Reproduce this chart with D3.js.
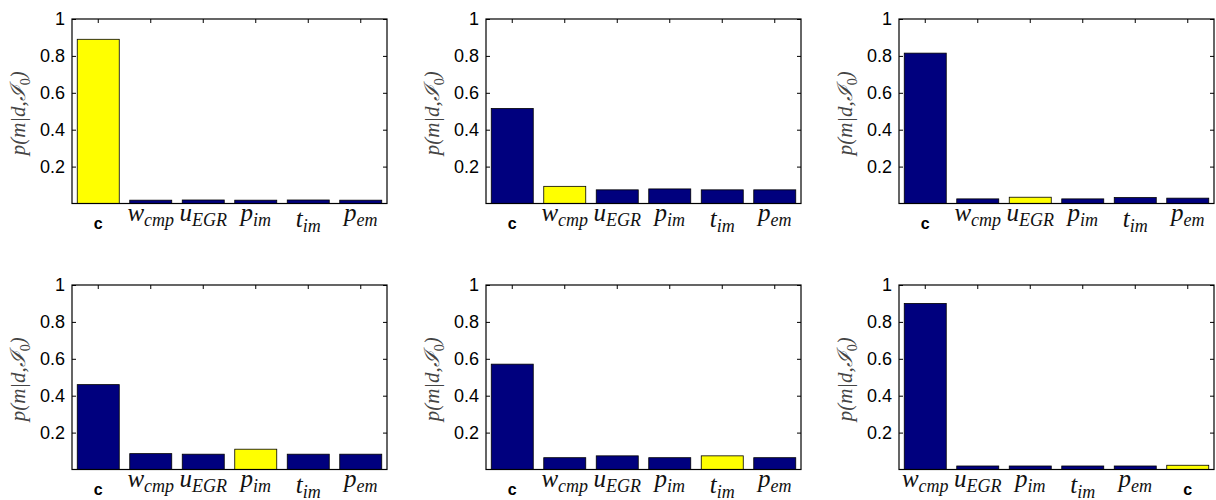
<!DOCTYPE html>
<html lang="en">
<head>
  <meta charset="UTF-8" />
  <title>Posterior mode probabilities</title>
  <script src="https://d3js.org/d3.v7.min.js"></script>
  <style>
    body { margin: 0; background: #fff; }
    svg { display: block; }
  </style>
</head>
<body>
  <svg id="chart" width="1216" height="500"></svg>
  <script>
    // categories per panel (last panel has c moved to the end)
    const modesA = ["c", "w_cmp", "u_EGR", "p_im", "t_im", "p_em"];
    const modesB = ["w_cmp", "u_EGR", "p_im", "t_im", "p_em", "c"];
    const panelModes = [modesA, modesA, modesA, modesA, modesA, modesB];

    // bar heights
    const panelValues = [
      [0.89, 0.018, 0.019, 0.018, 0.019, 0.018],
      [0.515, 0.093, 0.074, 0.079, 0.074, 0.074],
      [0.815, 0.025, 0.034, 0.025, 0.032, 0.029],
      [0.46, 0.086, 0.083, 0.11, 0.083, 0.083],
      [0.571, 0.064, 0.074, 0.064, 0.074, 0.064],
      [0.90, 0.019, 0.019, 0.019, 0.019, 0.023]
    ];

    // which bar is the true mode (drawn yellow)
    const highlighted = [0, 1, 2, 3, 4, 5];

    const yTicks = [0.2, 0.4, 0.6, 0.8, 1];

    const svg = d3.select("#chart");
    svg.append("rect").attr("width", 1216).attr("height", 500).attr("fill", "#fff");

    const colLeft = [72, 486, 899];
    const rowTop = [19, 285];
    const plotW = 315, plotH = 184.5;
    const navy = "#00007e", yellow = "#ffff00";
    const serif = "'Liberation Serif', 'Times New Roman', 'DejaVu Serif', serif";
    const sans = "'Liberation Sans', Arial, sans-serif";

    panelModes.forEach((modes, p) => {
      const left = colLeft[p % 3];
      const top = rowTop[Math.floor(p / 3)];
      const g = svg.append("g").attr("transform", `translate(${left},${top})`);

      const x = d3.scaleBand().domain(modes).range([0, plotW])
        .paddingInner(0.2).paddingOuter(0.1);
      const y = d3.scaleLinear().domain([0, 1]).range([plotH, 0]);

      // bars
      g.selectAll("rect.bar")
        .data(modes.map((m, i) => ({ m, v: panelValues[p][i], i })))
        .join("rect")
        .attr("class", "bar")
        .attr("x", d => x(d.m))
        .attr("width", x.bandwidth())
        .attr("y", d => y(d.v))
        .attr("height", d => y(0) - y(d.v))
        .attr("fill", d => d.i === highlighted[p] ? yellow : navy)
        .attr("stroke", "#000")
        .attr("stroke-width", 0.8);

      // inward ticks, MATLAB-like box
      const yAxis = g.append("g")
        .call(d3.axisLeft(y).tickValues(yTicks).tickSize(-4).tickPadding(7)
          .tickFormat(d => d === 1 ? "1" : d3.format(".1f")(d)));
      yAxis.select(".domain").remove();
      yAxis.selectAll("text").attr("font-family", sans).attr("font-size", 18).attr("fill", "#000");

      const yAxisR = g.append("g").attr("transform", `translate(${plotW},0)`)
        .call(d3.axisRight(y).tickValues(yTicks).tickSize(-4).tickFormat(""));
      yAxisR.select(".domain").remove();

      const xTop = g.append("g")
        .call(d3.axisTop(x).tickSize(-4).tickFormat(""));
      xTop.select(".domain").remove();

      g.append("rect")
        .attr("width", plotW).attr("height", plotH)
        .attr("fill", "none").attr("stroke", "#000").attr("stroke-width", 1.2);

      // x labels with TeX-like subscripts
      modes.forEach(m => {
        const cx = x(m) + x.bandwidth() / 2;
        if (m === "c") {
          g.append("text")
            .attr("x", cx).attr("y", plotH + 25)
            .attr("text-anchor", "middle")
            .attr("font-family", sans).attr("font-size", 16)
            .attr("font-weight", 600)
            .text("c");
          return;
        }
        const [base, sub] = m.split("_");
        const t = g.append("text")
          .attr("x", cx)
          .attr("y", plotH + (base === "t" ? 23 : 17))
          .attr("text-anchor", "middle")
          .attr("font-family", serif).attr("font-style", "italic")
          .attr("fill", "#111");
        t.append("tspan").attr("font-size", 25).text(base);
        t.append("tspan").attr("font-size", 18).attr("dy", 5).text(sub);
      });

      // y label
      const lab = svg.append("text")
        .attr("transform", `translate(${left - 47},${top + plotH / 2 + 2}) rotate(-90)`)
        .attr("text-anchor", "middle")
        .attr("font-family", serif).attr("font-style", "italic")
        .attr("font-size", 21).attr("fill", "#444");
      lab.append("tspan").text("p(m|d,");
      lab.append("tspan").text("\u2110");
      lab.append("tspan").attr("font-size", 14).attr("font-style", "normal").attr("dy", 5).text("0");
      lab.append("tspan").attr("dy", -5).text(")");
    });
  </script>
</body>
</html>
